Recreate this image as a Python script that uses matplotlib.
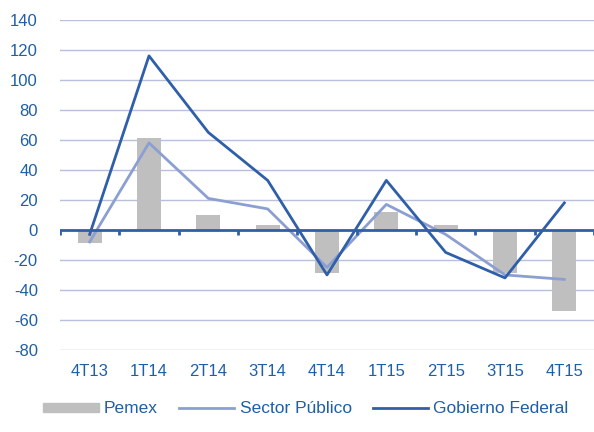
import numpy as np
import matplotlib.pyplot as plt
from matplotlib.patches import Patch
from matplotlib.lines import Line2D

plt.rcParams['font.family'] = ['Liberation Sans', 'DejaVu Sans']
plt.rcParams['axes.unicode_minus'] = False

quarters = ['4T13', '1T14', '2T14', '3T14', '4T14', '1T15', '2T15', '3T15', '4T15']
pemex = [-9, 61, 10, 3, -29, 12, 3, -29, -54]
sector_publico = [-8, 58, 21, 14, -25, 17, -3, -30, -33]
gobierno_federal = [-3, 116, 65, 33, -30, 33, -15, -32, 18]

text_blue = '#1f5fa6'
grid_col = '#b8c0dc'
bar_col = '#bfbfbf'
sp_col = '#8c9fd2'
gf_col = '#2f5fa8'

x = np.arange(len(quarters))

fig = plt.figure(figsize=(5.94, 4.32), dpi=100)
ax = fig.add_axes([0.101, 0.19, 0.899, 0.764])

ax.bar(x, pemex, width=0.4, color=bar_col, zorder=2)
ax.plot(x, sector_publico, color=sp_col, lw=2, zorder=3)
ax.plot(x, gobierno_federal, color=gf_col, lw=2, zorder=4)

ax.set_ylim(-80, 140)
ax.set_xlim(-0.5, len(quarters) - 0.5)
ax.set_yticks(np.arange(-80, 141, 20))
ax.yaxis.grid(True, color=grid_col, lw=1)
ax.set_axisbelow(True)

# zero line with category separators
ax.axhline(0, color=gf_col, lw=2, zorder=5)
ax.vlines(np.arange(len(quarters) + 1) - 0.5, -3.5, 0, color=gf_col, lw=2, zorder=5)

ax.set_xticks(x)
ax.set_xticklabels(quarters)
ax.tick_params(axis='both', length=0, labelsize=12, colors=text_blue)
ax.tick_params(axis='x', pad=10)
ax.tick_params(axis='y', pad=16)
for s in ax.spines.values():
    s.set_visible(False)

handles = [Patch(color=bar_col),
           Line2D([], [], color=sp_col, lw=2),
           Line2D([], [], color=gf_col, lw=2)]
leg = fig.legend(handles, ['Pemex', 'Sector Público', 'Gobierno Federal'],
                 loc='lower center', bbox_to_anchor=(0.515, 0.0), ncol=3, frameon=False,
                 fontsize=12.5, handlelength=3.2, handleheight=0.4, columnspacing=1.2,
                 handletextpad=0.3)
for t in leg.get_texts():
    t.set_color(text_blue)

fig.savefig('out.png', dpi=100)
